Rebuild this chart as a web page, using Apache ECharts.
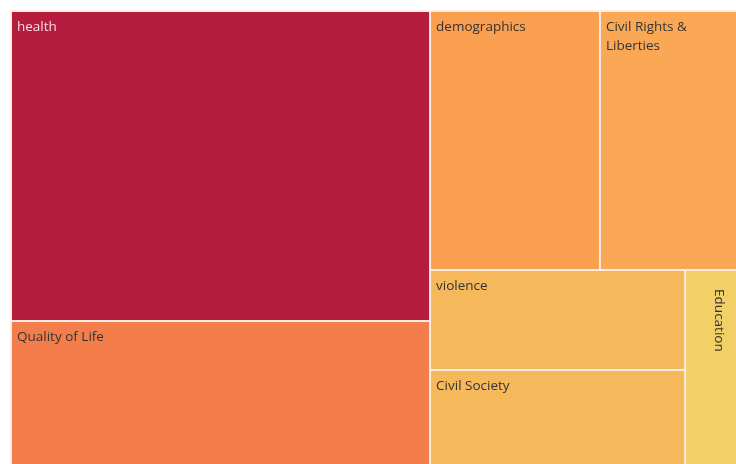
<!DOCTYPE html>
<html>
<head>
<meta charset="utf-8">
<script src="https://cdn.jsdelivr.net/npm/echarts@6/dist/echarts.min.js"></script>
<style>
  html, body { margin: 0; padding: 0; background: #fff; overflow: hidden; }
  #wrap { width: 736px; height: 464px; overflow: hidden; }
  #chart { width: 738px; height: 466px; }
</style>
</head>
<body>
<div id="wrap"><div id="chart"></div></div>
<script>
// Topic counts, one tile per topic
const topics = ['health', 'Quality of Life', 'demographics', 'Civil Rights & Liberties', 'violence', 'Civil Society', 'Education'];
const counts = [1299, 603, 440, 355, 255, 242, 101];
const tileColors = ['#B51C3E', '#F37E4C', '#FA9E50', '#FAA855', '#F5B85A', '#F5B85A', '#F2CF67'];
const labelColors = ['#F6DCE2', '#333333', '#333333', '#333333', '#333333', '#333333', '#333333'];

const data = topics.map((name, i) => {
  const item = {
    name: name,
    value: counts[i],
    itemStyle: { color: tileColors[i] },
    label: { color: labelColors[i] }
  };
  if (name === 'Education') {
    item.label = {
      color: labelColors[i],
      position: [33, 18],
      rotate: -90,
      align: 'left',
      verticalAlign: 'middle',
      overflow: 'none',
      padding: 0
    };
  }
  return item;
});

// The chart is two pixels larger than the window so the outer right and
// bottom tile borders fall just outside the visible area.
const chart = echarts.init(document.getElementById('chart'), null, { renderer: 'canvas' });
chart.setOption({
  animation: false,
  series: [{
    type: 'treemap',
    left: 10,
    top: 10,
    right: 0,
    bottom: 0,
    roam: false,
    nodeClick: false,
    breadcrumb: { show: false },
    sort: 'desc',
    itemStyle: {
      borderWidth: 1,
      borderColor: 'rgba(255,235,225,0.85)',
      gapWidth: 0
    },
    label: {
      show: true,
      position: 'insideTopLeft',
      distance: 0,
      padding: [6, 5, 0, 5],
      fontFamily: 'Open Sans',
      fontSize: 13.5,
      lineHeight: 19,
      overflow: 'break',
      formatter: '{b}'
    },
    data: data
  }]
});
</script>
</body>
</html>
